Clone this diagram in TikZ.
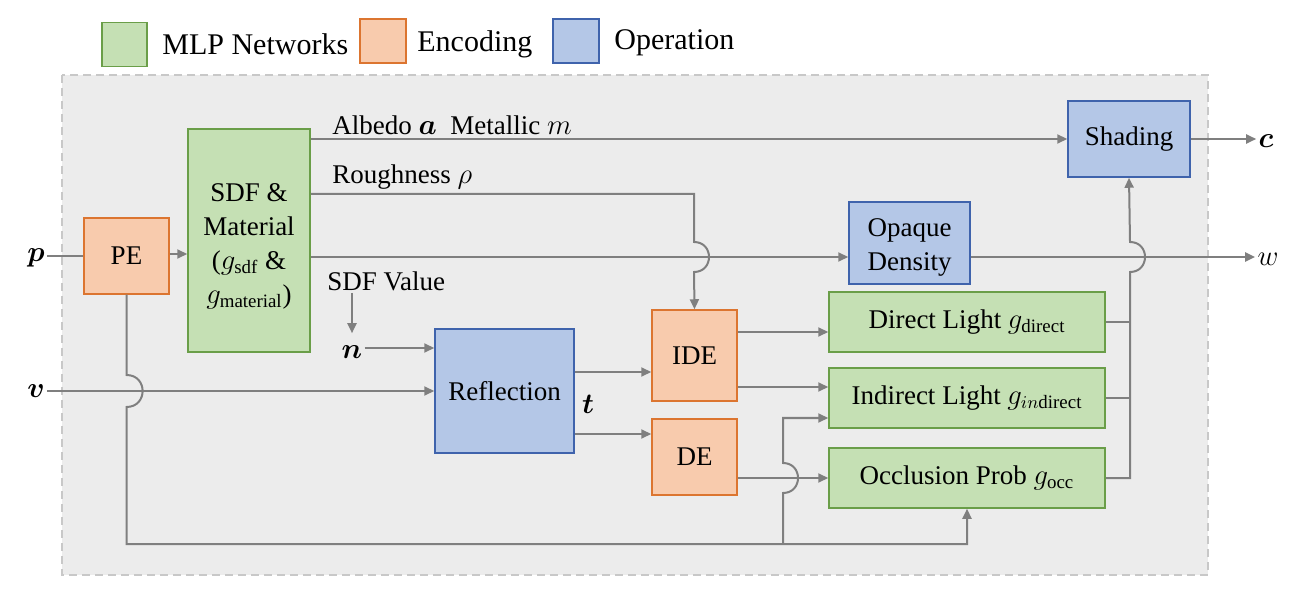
\documentclass[tikz,border=0pt]{standalone}
\usepackage{amsmath}
\usepackage{bm}
\usepackage{fontspec}
\setmainfont{Liberation Serif}
\usetikzlibrary{arrows.meta}
\definecolor{greenF}{HTML}{C5E0B4}
\definecolor{greenD}{HTML}{6A9E48}
\definecolor{orangeF}{HTML}{F8CBAD}
\definecolor{orangeD}{HTML}{DC7530}
\definecolor{blueF}{HTML}{B4C7E7}
\definecolor{blueD}{HTML}{3F63AC}
\definecolor{lineC}{HTML}{7F7F7F}
\definecolor{bgF}{HTML}{ECECEC}
\definecolor{bgD}{HTML}{C8C8C8}
\begin{document}
\begin{tikzpicture}[x=0.5pt,y=-0.5pt,
  every node/.style={font=\fontsize{13.5}{17}\selectfont},
  boxbase/.style={inner sep=0pt, line width=0.75pt, align=center},
  mlp/.style={boxbase, draw=greenD, fill=greenF},
  enc/.style={boxbase, draw=orangeD, fill=orangeF},
  op/.style={boxbase, draw=blueD, fill=blueF},
  legtext/.style={font=\fontsize{15}{18}\selectfont, anchor=west, inner sep=0pt},
  lbl/.style={inner sep=1pt},
  conn/.style={draw=lineC, line width=1pt},
  arr/.style={conn, -{Triangle[length=5pt,width=4.5pt]}}
]
\useasboundingbox (0,0) rectangle (1304,603);
% background panel
\draw[dashed, dash pattern=on 4pt off 2.5pt, draw=bgD, fill=bgF, line width=0.6pt] (62,75) rectangle (1208,575);

% legend
\node[mlp, minimum width=22.5pt, minimum height=22pt] (lg1) at (124.5,44.5) {};
\node[legtext] (lt1) at (162,44) {MLP Networks};
\node[enc, minimum width=23pt, minimum height=22pt] (lg2) at (383,41) {};
\node[legtext] (lt2) at (417,44) {Encoding};
\node[op, minimum width=23pt, minimum height=22pt] (lg3) at (576,41) {};
\node[legtext] (lt3) at (614,43) {Operation};

% boxes
\node[enc, minimum width=42.5pt, minimum height=38pt] (PE) at (126.5,256) {PE};
\node[mlp, minimum width=61pt, minimum height=111.5pt] (SDF) at (249,240.5) {};
\node[align=center, inner sep=0pt] (SDFt) at (249,246)
  {SDF \&\\Material\\($g_{\mathrm{sdf}}$ \&\\$g_{\mathrm{material}}$)};
\node[op, minimum width=69.5pt, minimum height=62pt] (Refl) at (504.5,391) {Reflection};
\node[enc, minimum width=42.5pt, minimum height=45.5pt] (IDE) at (694.5,355.5) {IDE};
\node[enc, minimum width=42.5pt, minimum height=38pt] (DE) at (694.5,457) {DE};
\node[op, minimum width=60.5pt, minimum height=41pt] (Op) at (909.5,243) {};
\node[align=center, inner sep=0pt] (Opt) at (909.5,247) {Opaque\\Density};
\node[mlp, minimum width=138pt, minimum height=30pt] (Dir) at (967,322) {Direct Light $g_{\mathrm{direct}}$};
\node[mlp, minimum width=138pt, minimum height=30pt] (Ind) at (967,398) {Indirect Light $g_{in\mathrm{direct}}$};
\node[mlp, minimum width=138pt, minimum height=30pt] (Occ) at (967,478) {Occlusion Prob $g_{\mathrm{occ}}$};
\node[op, minimum width=61pt, minimum height=38pt] (Sh) at (1129,139) {Shading};

% labels
\node[lbl] (plab) at (36,258) {$\bm{p}$};
\node[lbl] (vlab) at (36,391) {$\bm{v}$};
\node[lbl] (nlab) at (352,352) {$\bm{n}$};
\node[lbl] (tlab) at (588,404) {$\bm{t}$};
\node[lbl] (clab) at (1266,141) {$\bm{c}$};
\node[lbl] (wlab) at (1268,259) {$w$};
\node[lbl, anchor=west] (alb) at (330,125) {Albedo $\bm{a}$\ \ Metallic $m$};
\node[lbl, anchor=west] (rough) at (330,177) {Roughness $\rho$};
\node[lbl, anchor=west] (sdfv) at (325,281) {SDF Value};

% connectors
\draw[conn] (PE.west -| plab.east) -- (PE.west);
\draw[arr] ([yshift=1pt]PE.east) -- ([yshift=1pt]PE.east -| SDF.west);
\draw[arr] (SDF.east |- Sh.west) -- (Sh.west);
\draw[arr] (SDF.east |- 0,194) -- (694,194) -- (694,242)
  .. controls (714,242) and (714,272) .. (694,272) -- (IDE.north);
\draw[arr] (SDF.east |- 0,257) -- (Op.west |- 0,257);
\draw[arr] (Op.east |- 0,257) -- (wlab.west |- 0,257);
\draw[arr] (sdfv.south -| nlab.north) -- ([yshift=5pt]nlab.north);
\draw[arr] ([yshift=2pt]nlab.east) -- ([yshift=2pt]nlab.east -| Refl.west);
\draw[arr] (vlab.east) -- (vlab.east -| Refl.west);
\draw[arr] (PE.south) -- (126.5,375) .. controls (148,375) and (148,407) .. (126.5,407)
  -- (126.5,544) -- (967,544) -- (Occ.south);
\draw[arr] (783,544) -- (783,493) .. controls (803,493) and (803,463) .. (783,463)
  -- (783,418) -- (Ind.west |- 0,418);
\draw[arr] (Refl.east |- 0,372) -- (IDE.west |- 0,372);
\draw[arr] (Refl.east |- 0,434) -- (DE.west |- 0,434);
\draw[arr] (IDE.east |- 0,332) -- (Dir.west |- 0,332);
\draw[arr] (IDE.east |- 0,387) -- (Ind.west |- 0,387);
\draw[arr] (DE.east |- 0,478) -- (Occ.west);
\draw[conn] (Dir.east) -- (1130,322);
\draw[conn] (Ind.east) -- (1130,398);
\draw[arr] (Occ.east) -- (1130,478) -- (1130,272) .. controls (1150,272) and (1150,242) .. (1130,242)
  -- (Sh.south);
\draw[arr] (Sh.east) -- (Sh.east -| clab.west);
\end{tikzpicture}
\end{document}
